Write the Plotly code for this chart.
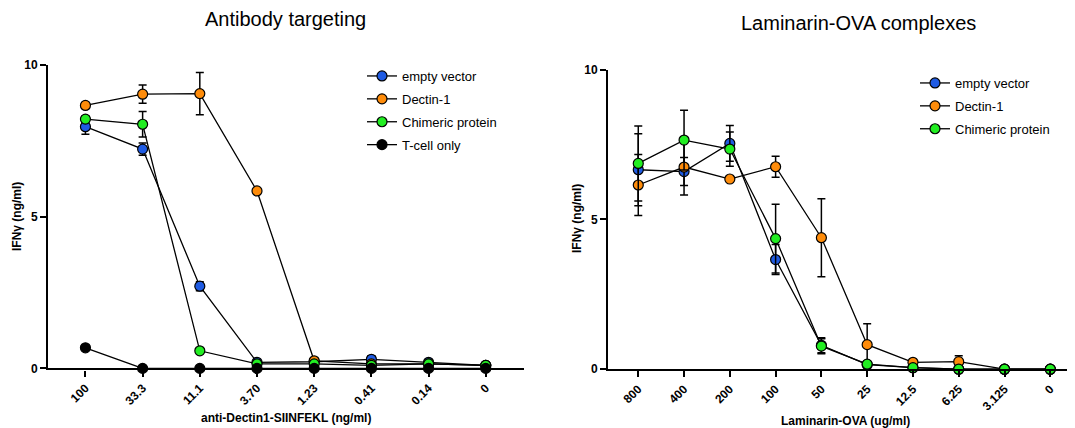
import plotly.graph_objects as go

# page offset (browser body margin) compensation
OFF = 8
W, H = 1075 - OFF, 428 - OFF

# ---------------- data ----------------
ab_doses = ["100", "33.3", "11.1", "3.70", "1.23", "0.41", "0.14", "0"]
ab_empty = [7.97, 7.23, 2.71, 0.2, 0.22, 0.3, 0.2, 0.1]
ab_empty_err = [0.25, 0.2, 0.15, 0.05, 0.05, 0.12, 0.05, 0.03]
ab_dectin = [8.67, 9.04, 9.06, 5.85, 0.25, 0.15, 0.15, 0.1]
ab_dectin_err = [0.1, 0.3, 0.7, 0.0, 0.1, 0.05, 0.05, 0.03]
ab_chimeric = [8.22, 8.05, 0.58, 0.15, 0.15, 0.1, 0.15, 0.1]
ab_chimeric_err = [0.1, 0.42, 0.05, 0.05, 0.05, 0.05, 0.05, 0.03]
ab_tcell = [0.68, 0.0, 0.0, 0.0, 0.0, 0.0, 0.0, 0.0]

lam_doses = ["800", "400", "200", "100", "50", "25", "12.5", "6.25", "3.125", "0"]
lam_empty = [6.66, 6.6, 7.54, 3.66, 0.8, 0.15, 0.05, 0.0, 0.0, 0.0]
lam_empty_err = [1.2, 0.47, 0.6, 0.5, 0.25, 0.05, 0.03, 0.0, 0.0, 0.0]
lam_dectin = [6.15, 6.75, 6.35, 6.76, 4.39, 0.82, 0.23, 0.25, 0.0, 0.0]
lam_dectin_err = [1.02, 0.93, 0.0, 0.35, 1.3, 0.7, 0.05, 0.2, 0.0, 0.0]
lam_chimeric = [6.87, 7.65, 7.35, 4.36, 0.77, 0.17, 0.05, 0.0, 0.0, 0.0]
lam_chimeric_err = [1.25, 1.0, 0.57, 1.15, 0.25, 0.05, 0.03, 0.0, 0.0, 0.0]

names = ["empty vector", "Dectin-1", "Chimeric protein", "T-cell only"]
colors = ["#1f5be3", "#ff8c0a", "#22ee22", "#000000"]

FONT = "Liberation Sans, Arial, sans-serif"


def px(x):
    return (x - OFF) / W


def py(y):
    return 1 - (y - OFF) / H


fig = go.Figure()


def add(x, y, err, name, color, xa, ya, legend, group):
    kw = {}
    if err is not None:
        kw["error_y"] = dict(type="data", array=err, visible=True,
                             color="black", thickness=1.5, width=4)
    fig.add_trace(go.Scatter(
        x=x, y=y, name=name, mode="lines+markers",
        line=dict(color="black", width=1.3),
        marker=dict(color=color, size=10, line=dict(color="black", width=1.2)),
        xaxis=xa, yaxis=ya, legend=legend, legendgroup=group,
        cliponaxis=False, **kw))


add(ab_doses, ab_empty, ab_empty_err, names[0], colors[0], "x", "y", "legend", "a0")
add(ab_doses, ab_dectin, ab_dectin_err, names[1], colors[1], "x", "y", "legend", "a1")
add(ab_doses, ab_chimeric, ab_chimeric_err, names[2], colors[2], "x", "y", "legend", "a2")
add(ab_doses, ab_tcell, None, names[3], colors[3], "x", "y", "legend", "a3")

add(lam_doses, lam_empty, lam_empty_err, names[0], colors[0], "x2", "y2", "legend2", "b0")
add(lam_doses, lam_dectin, lam_dectin_err, names[1], colors[1], "x2", "y2", "legend2", "b1")
add(lam_doses, lam_chimeric, lam_chimeric_err, names[2], colors[2], "x2", "y2", "legend2", "b2")

tickfont = dict(family=FONT, size=12, color="black", weight="bold")
axcommon = dict(showgrid=False, zeroline=False, showline=True, linecolor="black",
                linewidth=2.2, ticks="outside", ticklen=6, tickwidth=2,
                tickcolor="black", tickfont=tickfont, automargin=False)

# panel geometry (reference pixels)
L_x0, L_x1, L_y0, L_y1 = 48.2, 523.5, 368.4, 65.1
R_x0, R_x1, R_y0, R_y1 = 608.2, 1075, 369.2, 69.7

fig.update_layout(
    width=W, height=H,
    margin=dict(l=0, r=0, t=0, b=0, autoexpand=False),
    paper_bgcolor="white", plot_bgcolor="white",
    font=dict(family=FONT, color="black"),
    xaxis=dict(domain=[px(L_x0), px(L_x1)], type="category",
               range=[-0.651, 7.66], tickangle=-45, anchor="y", **axcommon),
    yaxis=dict(domain=[py(L_y0), py(L_y1)], range=[0, 10],
               tickvals=[0, 5, 10], anchor="x", **axcommon),
    xaxis2=dict(domain=[px(R_x0), min(1.0, px(R_x1))], type="category",
                range=[-0.657, 9.54], tickangle=-45, anchor="y2", **axcommon),
    yaxis2=dict(domain=[py(R_y0), py(R_y1)], range=[0, 10],
                tickvals=[0, 5, 10], anchor="x2", **axcommon),
    legend=dict(x=px(362), y=py(61), xanchor="left", yanchor="top",
                font=dict(family=FONT, size=13, color="black"),
                bgcolor="rgba(0,0,0,0)", tracegroupgap=3),
    legend2=dict(x=px(915), y=py(68), xanchor="left", yanchor="top",
                 font=dict(family=FONT, size=13, color="black"),
                 bgcolor="rgba(0,0,0,0)", tracegroupgap=3),
    showlegend=True,
)

ann = []
title_font = dict(family=FONT, size=20, color="black")
bold12 = dict(family=FONT, size=12, color="black", weight="bold")


def note(text, x, y, font, angle=0):
    ann.append(dict(text=text, x=px(x), y=py(y), xref="paper", yref="paper",
                    xanchor="center", yanchor="middle", textangle=angle,
                    showarrow=False, font=font))


note("Antibody targeting", 285, 19, title_font)
note("Laminarin-OVA complexes", 858, 23, title_font)
note("anti-Dectin1-SIINFEKL (ng/ml)", 286, 418, bold12)
note("Laminarin-OVA (ug/ml)", 845, 421, bold12)
note("IFNγ (ng/ml)", 17, 217, bold12, -90)
note("IFNγ (ng/ml)", 577, 219, bold12, -90)
fig.update_layout(annotations=ann)

fig.write_html("out.html")
